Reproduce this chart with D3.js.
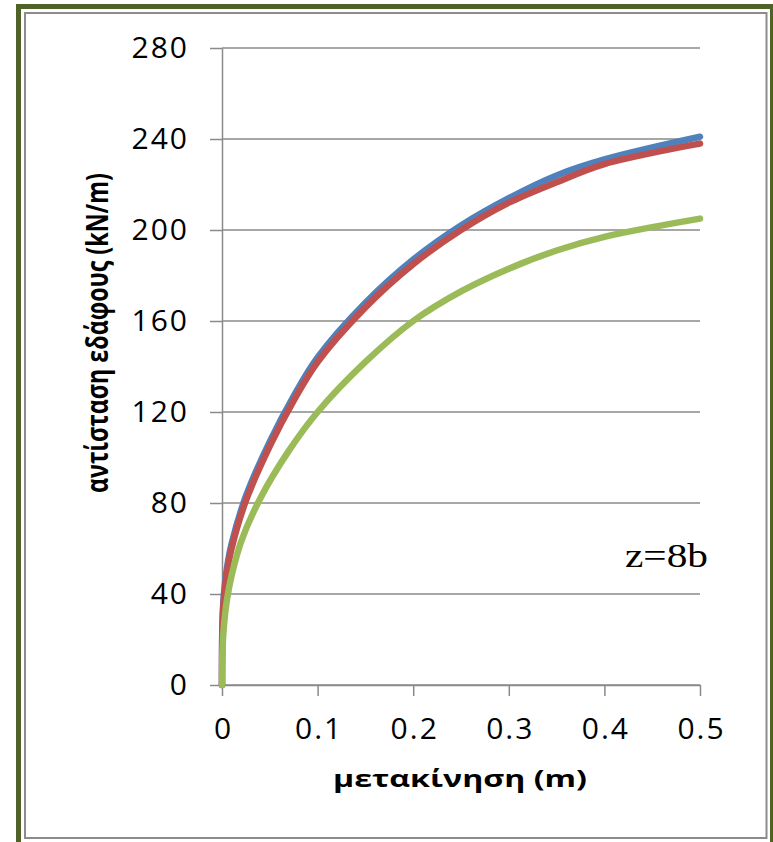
<!DOCTYPE html>
<html>
<head>
<meta charset="utf-8">
<script src="https://cdn.jsdelivr.net/npm/d3@7"></script>
<style>
  body { margin: 0; background: #fff; }
  svg { display: block; }
</style>
</head>
<body>
<div id="chart"></div>
<script>
// displacement (m) and soil resistance (kN/m)
const blueX = [0, 0.0005, 0.002, 0.005, 0.01, 0.025, 0.05, 0.075, 0.1, 0.15, 0.2, 0.25, 0.3, 0.35, 0.4, 0.5];
const blueY = [0, 28, 40, 51, 62, 83, 107, 127, 144, 168, 187, 202, 214, 224, 231, 241];
const redX = [0, 0.0005, 0.002, 0.005, 0.01, 0.025, 0.05, 0.075, 0.1, 0.15, 0.2, 0.25, 0.3, 0.35, 0.4, 0.5];
const redY = [0, 26, 38, 49, 60, 81, 105, 125, 142, 166, 185, 200, 212, 221, 229, 238];
const greenX = [0, 0.0005, 0.002, 0.005, 0.01, 0.02, 0.04, 0.07, 0.1, 0.15, 0.2, 0.25, 0.3, 0.35, 0.4, 0.5];
const greenY = [0, 15, 26, 37, 48, 63, 82, 103, 120, 142, 160, 173, 183, 191, 197, 205];

const xTicks = [0, 0.1, 0.2, 0.3, 0.4, 0.5];
const yTicks = [0, 40, 80, 120, 160, 200, 240, 280];

const W = 773, H = 842;
const svg = d3.select("#chart").append("svg").attr("width", W).attr("height", H);

// frame: olive outer line and thin grey inner line
svg.append("rect")
  .attr("x", 18.5).attr("y", 6.5).attr("width", 754).attr("height", 840)
  .attr("fill", "none").attr("stroke", "#4F6228").attr("stroke-width", 5);
svg.append("rect")
  .attr("x", 25).attr("y", 13).attr("width", 741.5).attr("height", 825)
  .attr("fill", "none").attr("stroke", "#8c8c8c").attr("stroke-width", 2);

const xScale = d3.scaleLinear().domain([0, 0.5]).range([222, 700]);
const yScale = d3.scaleLinear().domain([0, 280]).range([685, 48]);

// horizontal gridlines
svg.append("g")
  .selectAll("line")
  .data(yTicks)
  .enter()
  .append("line")
  .attr("x1", xScale(0)).attr("x2", xScale(0.5))
  .attr("y1", (d) => yScale(d)).attr("y2", (d) => yScale(d))
  .attr("stroke", "#8a8a8a").attr("stroke-width", 1.5);

const fontFamily = "'Open Sans', 'DejaVu Sans', sans-serif";

// axes
const yAxis = svg.append("g")
  .attr("transform", `translate(${xScale(0)},0)`)
  .call(d3.axisLeft(yScale).tickValues(yTicks).tickSize(12).tickPadding(21).tickSizeOuter(0).tickFormat(d3.format("d")));
const xAxis = svg.append("g")
  .attr("transform", `translate(0,${yScale(0)})`)
  .call(d3.axisBottom(xScale).tickValues(xTicks).tickSize(11).tickPadding(22).tickSizeOuter(0)
    .tickFormat((d) => (d === 0 ? "0" : d3.format(".1f")(d))));

[yAxis, xAxis].forEach((a) => {
  a.select(".domain").attr("stroke", "#8a8a8a").attr("stroke-width", 1.5);
  a.selectAll(".tick line").attr("stroke", "#8a8a8a").attr("stroke-width", 1.5);
  a.selectAll("text")
    .attr("fill", "#000")
    .style("font-family", fontFamily)
    .style("font-size", "30px")
    .style("letter-spacing", "2px");
});
xAxis.selectAll("text").attr("dx", "1px");

// curves
const line = d3.line()
  .x((d) => xScale(d[0]))
  .y((d) => yScale(d[1]))
  .curve(d3.curveCatmullRom.alpha(0.5));

const series = [
  { xs: blueX, ys: blueY, color: "#4F81BD" },
  { xs: redX, ys: redY, color: "#C0504D" },
  { xs: greenX, ys: greenY, color: "#9BBB59" },
];

series.forEach((s) => {
  svg.append("path")
    .datum(s.xs.map((x, i) => [x, s.ys[i]]))
    .attr("d", line)
    .attr("fill", "none")
    .attr("stroke", s.color)
    .attr("stroke-width", 6.5)
    .attr("stroke-linejoin", "round")
    .attr("stroke-linecap", "round");
});

// axis titles (the original is stretched sideways)
svg.append("text")
  .attr("x", 460).attr("y", 787)
  .attr("text-anchor", "middle")
  .attr("textLength", 254)
  .attr("lengthAdjust", "spacingAndGlyphs")
  .style("font-family", fontFamily)
  .style("font-weight", "bold")
  .style("font-size", "24px")
  .text("μετακίνηση (m)");

svg.append("text")
  .attr("transform", "translate(108,333) rotate(-90) scale(1,1.3)")
  .attr("text-anchor", "middle")
  .attr("textLength", 320)
  .attr("lengthAdjust", "spacingAndGlyphs")
  .style("font-family", fontFamily)
  .style("font-weight", "bold")
  .style("font-size", "24px")
  .text("αντίσταση εδάφους (kN/m)");

// annotation
svg.append("text")
  .attr("x", 708).attr("y", 567)
  .attr("text-anchor", "end")
  .attr("textLength", 83)
  .attr("lengthAdjust", "spacingAndGlyphs")
  .style("font-family", "'Liberation Serif', 'Times New Roman', serif")
  .style("font-size", "33px")
  .text("z=8b");
</script>
</body>
</html>
